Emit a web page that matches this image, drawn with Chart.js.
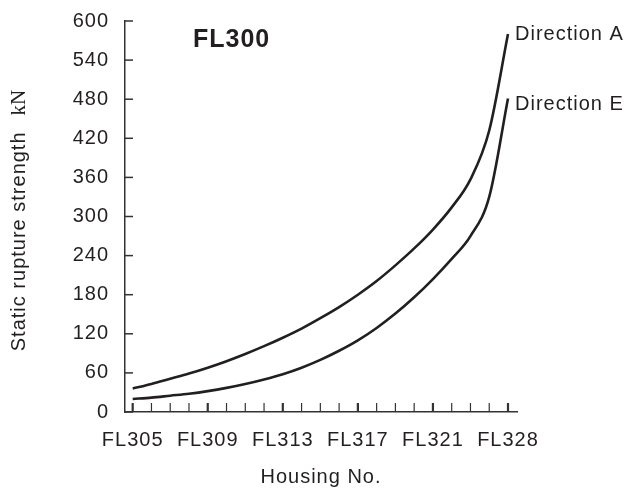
<!DOCTYPE html>
<html>
<head>
<meta charset="utf-8">
<script src="https://cdn.jsdelivr.net/npm/chart.js@4/dist/chart.umd.min.js"></script>
<style>
html,body{margin:0;padding:0;background:#ffffff;}
#wrap{width:631px;height:488px;}
</style>
</head>
<body>
<div id="wrap"><canvas id="c" width="631" height="488"></canvas></div>
<script>
// ---- data ----
const housings = ['FL305','FL306','FL307','FL308','FL309','FL310','FL311','FL312','FL313','FL314',
  'FL315','FL316','FL317','FL318','FL319','FL320','FL321','FL322','FL324','FL326','FL328'];
const xTickLabels = ['FL305','FL309','FL313','FL317','FL321','FL328'];
const yTickValues = [0,60,120,180,240,300,360,420,480,540,600];
const directionA = [36,43,51,59,68,78,89,101,114,128,144,161,180,201,225,251,280,314,357,432,580];
const directionE = [20,22,25,28,32,37,43,50,58,68,80,94,110,129,151,176,204,235,270,330,481];
const seriesNames = ['Direction A','Direction E'];
const chartLabel = 'FL300';
const xTitle = 'Housing No.';
const yTitleMain = 'Static rupture strength';
const yTitleUnit = 'kN';

// ---- styles ----
const TEXT = '#231f20';
const LINE = '#231f20';
const AXIS = '#333333';
const FONT = "'Liberation Sans', Arial, Helvetica, sans-serif";
const SERIF = "'Liberation Serif', 'Times New Roman', serif";

const annot = {
  id: 'annot',
  beforeDraw(chart){ chart.ctx.letterSpacing = '1px'; },
  afterDatasetsDraw(chart){
    const {ctx, scales:{x, y}} = chart;
    ctx.save();
    ctx.strokeStyle = AXIS;
    ctx.lineCap = 'butt';
    ctx.lineWidth = 1.5;
    y.ticks.forEach(t => {
      const py = y.getPixelForValue(t.value);
      ctx.beginPath();
      ctx.moveTo(x.left, py);
      ctx.lineTo(x.left + 8, py);
      ctx.stroke();
    });
    x.ticks.forEach(t => {
      const px = x.getPixelForValue(t.value);
      const major = xTickLabels.includes(housings[t.value]);
      ctx.lineWidth = major ? 2.2 : 1.2;
      ctx.beginPath();
      ctx.moveTo(px, y.bottom);
      ctx.lineTo(px, y.bottom - 9);
      ctx.stroke();
    });
    ctx.restore();
  },
  afterDraw(chart){
    const {ctx, chartArea, scales:{x, y}} = chart;
    ctx.save();
    ctx.letterSpacing = '1px';
    ctx.fillStyle = TEXT;
    ctx.font = "bold 25px " + FONT;
    ctx.textAlign = 'left';
    ctx.textBaseline = 'middle';
    ctx.fillText(chartLabel, chartArea.left + 68, chartArea.top + 19);
    ctx.font = "20px " + FONT;
    const dy = [0, 6];
    chart.data.datasets.forEach((ds, k) => {
      const meta = chart.getDatasetMeta(k);
      const last = meta.data[meta.data.length - 1];
      ctx.fillText(seriesNames[k], last.x + 7, last.y + dy[k]);
    });
    // y axis title, unit set in serif
    ctx.translate(19, (y.top + y.bottom) / 2 + 4);
    ctx.rotate(-Math.PI / 2);
    ctx.font = "20px " + FONT;
    const w1 = ctx.measureText(yTitleMain).width;
    const gap = 16;
    ctx.letterSpacing = '0px';
    ctx.font = "21px " + SERIF;
    const w2 = ctx.measureText(yTitleUnit).width;
    const start = -(w1 + gap + w2) / 2;
    ctx.letterSpacing = '1px';
    ctx.font = "20px " + FONT;
    ctx.fillText(yTitleMain, start, 0);
    ctx.letterSpacing = '0px';
    ctx.font = "21px " + SERIF;
    ctx.fillText(yTitleUnit, start + w1 + gap, 0);
    ctx.restore();
    chart.ctx.letterSpacing = '0px';
  }
};

new Chart(document.getElementById('c'), {
  type: 'line',
  data: {
    datasets: [
      { label: seriesNames[0], data: directionA.map((v, i) => ({x: i, y: v})),
        borderColor: LINE, borderWidth: 2.6, pointRadius: 0, fill: false, cubicInterpolationMode: 'monotone' },
      { label: seriesNames[1], data: directionE.map((v, i) => ({x: i, y: v})),
        borderColor: LINE, borderWidth: 2.6, pointRadius: 0, fill: false, cubicInterpolationMode: 'monotone' }
    ]
  },
  options: {
    responsive: false,
    animation: false,
    devicePixelRatio: 1,
    layout: { padding: { top: 21, right: 114, bottom: 0, left: 0 } },
    plugins: { legend: { display: false }, tooltip: { enabled: false }, title: { display: false } },
    elements: { point: { radius: 0 } },
    scales: {
      x: {
        type: 'linear',
        min: -0.41,
        max: 20.48,
        afterBuildTicks(s){ s.ticks = housings.map((h, i) => ({ value: i })); },
        afterFit(s){ s.height = 76; },
        grid: { display: false, drawTicks: false },
        border: { display: true, color: AXIS, width: 1.5 },
        ticks: {
          autoSkip: false, maxRotation: 0, minRotation: 0, padding: 16, color: TEXT,
          font: { family: FONT, size: 20 },
          callback: (v) => xTickLabels.includes(housings[v]) ? housings[v] : ''
        },
        title: { display: true, text: xTitle, color: TEXT, font: { family: FONT, size: 20 }, padding: { top: 0, bottom: -1 } }
      },
      y: {
        type: 'linear',
        min: 0,
        max: 600,
        afterBuildTicks(s){ s.ticks = yTickValues.map(v => ({ value: v })); },
        afterFit(s){ s.width = 125; s.paddingTop = 0; s.paddingBottom = 0; },
        grid: { display: false, drawTicks: false },
        border: { display: true, color: AXIS, width: 1.5 },
        ticks: { padding: 16, color: TEXT, font: { family: FONT, size: 20 } },
        title: { display: false }
      }
    }
  },
  plugins: [annot]
});
</script>
</body>
</html>
